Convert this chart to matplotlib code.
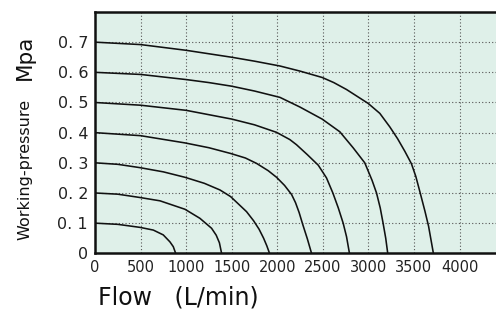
import matplotlib
matplotlib.use('Agg')
import matplotlib.pyplot as plt

# pressure curves: flow (L/min) vs working pressure (MPa)
flow_01 = [0, 250, 493, 640, 749, 822, 859, 885]
pres_01 = [0.100, 0.096, 0.086, 0.077, 0.061, 0.038, 0.022, 0.0]

flow_02 = [0, 250, 493, 713, 987, 1151, 1279, 1330, 1365, 1389]
pres_02 = [0.200, 0.196, 0.185, 0.174, 0.146, 0.116, 0.083, 0.060, 0.035, 0.0]

flow_03 = [0, 250, 493, 750, 987, 1200, 1371, 1488, 1663, 1740, 1800, 1850, 1885, 1915]
pres_03 = [0.300, 0.295, 0.284, 0.270, 0.252, 0.232, 0.210, 0.188, 0.138, 0.108, 0.080, 0.050, 0.025, 0.0]

flow_04 = [0, 500, 987, 1250, 1488, 1650, 1773, 1900, 1992, 2080, 2157, 2200, 2240, 2280, 2330, 2376]
pres_04 = [0.400, 0.390, 0.366, 0.350, 0.331, 0.316, 0.298, 0.274, 0.252, 0.225, 0.195, 0.168, 0.135, 0.095, 0.048, 0.0]

flow_05 = [0, 500, 1000, 1500, 1750, 1992, 2138, 2211, 2330, 2450, 2540, 2610, 2670, 2723, 2760, 2792]
pres_05 = [0.500, 0.491, 0.474, 0.445, 0.426, 0.401, 0.377, 0.360, 0.327, 0.292, 0.250, 0.200, 0.150, 0.100, 0.055, 0.0]

flow_06 = [0, 500, 1000, 1250, 1500, 1750, 2029, 2248, 2492, 2686, 2832, 2960, 3040, 3089, 3130, 3161, 3190, 3212]
pres_06 = [0.600, 0.593, 0.576, 0.566, 0.554, 0.538, 0.517, 0.485, 0.445, 0.403, 0.350, 0.300, 0.242, 0.200, 0.150, 0.100, 0.050, 0.0]

flow_07 = [0, 500, 1000, 1500, 1750, 2029, 2250, 2492, 2620, 2760, 2997, 3125, 3235, 3320,
           3400, 3472, 3520, 3564, 3620, 3660, 3713]
pres_07 = [0.700, 0.692, 0.673, 0.650, 0.637, 0.621, 0.604, 0.583, 0.566, 0.543, 0.497, 0.464, 0.419, 0.380,
           0.338, 0.297, 0.255, 0.205, 0.140, 0.090, 0.0]

curves = [(flow_01, pres_01), (flow_02, pres_02), (flow_03, pres_03), (flow_04, pres_04),
          (flow_05, pres_05), (flow_06, pres_06), (flow_07, pres_07)]

x_ticks = [0, 500, 1000, 1500, 2000, 2500, 3000, 3500, 4000]
x_labels = ['0', '500', '1000', '1500', '2000', '2500', '3000', '3500', '4000']
y_ticks = [0, 0.1, 0.2, 0.3, 0.4, 0.5, 0.6, 0.7]
y_labels = ['0', '0. 1', '0. 2', '0. 3', '0. 4', '0. 5', '0. 6', '0. 7']

fig = plt.figure(figsize=(4.96, 3.10), dpi=100)
ax = fig.add_axes([95/496, 56.7/310, 401/496, 241.3/310])
ax.set_facecolor('#dff0e9')

for f, p in curves:
    ax.plot(f, p, color='#111111', lw=1.15, solid_joinstyle='round',
            solid_capstyle='butt')

ax.set_xlim(0, 4400)
ax.set_ylim(0, 0.8)
ax.set_xticks(x_ticks)
ax.set_xticklabels(x_labels, fontsize=10.5, color='#222222')
ax.set_yticks(y_ticks)
ax.set_yticklabels(y_labels, fontsize=11.5, color='#222222')
ax.tick_params(length=0, pad=5)

# grid at every tick (skip the zero lines, they sit under the spines)
for xv in x_ticks[1:]:
    ax.axvline(xv, color='#555555', lw=0.8, ls=(0, (1, 2)), zorder=0.5)
for yv in y_ticks[1:]:
    ax.axhline(yv, color='#555555', lw=0.8, ls=(0, (1, 2)), zorder=0.5)

for s in ['left', 'bottom', 'top']:
    ax.spines[s].set_linewidth(1.8)
    ax.spines[s].set_color('#111111')
ax.spines['right'].set_visible(False)

fig.text(98/496, 1 - 298/310, 'Flow   (L/min)', fontsize=17, color='#111111',
         ha='left', va='center')
fig.text(25/496, 1 - 169/310, 'Working-pressure', fontsize=11.5, color='#111111',
         rotation=90, ha='center', va='center')
fig.text(25/496, 1 - 57/310, 'Mpa', fontsize=15.5, color='#111111',
         rotation=90, ha='center', va='center')

fig.savefig('out.png', dpi=100)
